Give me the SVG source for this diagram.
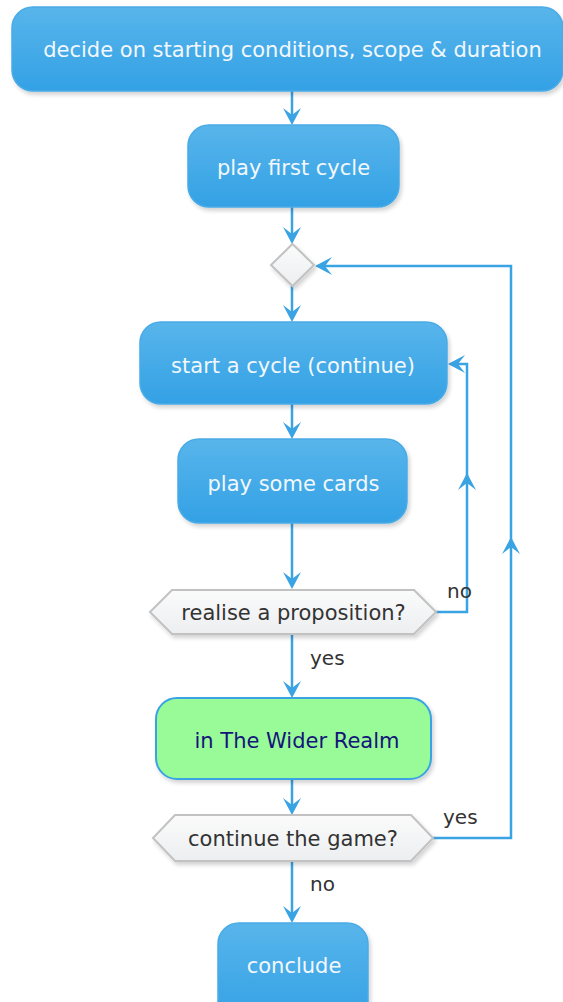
<svg xmlns="http://www.w3.org/2000/svg" width="563" height="1002" viewBox="0 0 563 1002">
<defs>
<linearGradient id="gBlue" x1="0" y1="0" x2="0" y2="1">
<stop offset="0" stop-color="#58b5eb"/>
<stop offset="1" stop-color="#33a1e5"/>
</linearGradient>
<linearGradient id="gHex" x1="0" y1="0" x2="0" y2="1">
<stop offset="0" stop-color="#fbfbfb"/>
<stop offset="1" stop-color="#eceef0"/>
</linearGradient>
<filter id="sh" x="-10%" y="-10%" width="130%" height="140%">
<feGaussianBlur in="SourceAlpha" stdDeviation="2"/>
<feOffset dx="2" dy="3"/>
<feComponentTransfer><feFuncA type="linear" slope="0.18"/></feComponentTransfer>
<feMerge><feMergeNode/><feMergeNode in="SourceGraphic"/></feMerge>
</filter>
</defs>
<style>
.act{fill:url(#gBlue);stroke:#4aabe6;stroke-width:1.5;filter:url(#sh)}
.green{fill:#98fb98;stroke:#3aa3e3;stroke-width:2;filter:url(#sh)}
.hex{fill:url(#gHex);stroke:#c2c2c2;stroke-width:2;filter:url(#sh)}
.wt{font-family:"DejaVu Sans",Verdana,sans-serif;font-size:21px;fill:#f2f8fd;text-anchor:middle}
.dt{font-family:"DejaVu Sans",Verdana,sans-serif;font-size:21px;fill:#333333;text-anchor:middle}
.gt{font-family:"DejaVu Sans",Verdana,sans-serif;font-size:21px;fill:#14147a;text-anchor:middle}
.lbl{font-family:"DejaVu Sans",Verdana,sans-serif;font-size:20px;fill:#333333}
.ln{fill:none;stroke:#3aa3e3;stroke-width:2.5}
.ahd{fill:#3aa3e3}
</style>
<g id="connectors">
<path class="ln" d="M292,91 V120"/>
<path class="ahd" d="M292,125 L283,108 L292,115 L301,108 Z"/>
<path class="ln" d="M292,207 V239"/>
<path class="ahd" d="M292,244 L283,227 L292,234 L301,227 Z"/>
<path class="ln" d="M292,286 V317"/>
<path class="ahd" d="M292,322 L283,305 L292,312 L301,305 Z"/>
<path class="ln" d="M292,404 V434"/>
<path class="ahd" d="M292,439 L283,422 L292,429 L301,422 Z"/>
<path class="ln" d="M292,523 V584"/>
<path class="ahd" d="M292,589 L283,572 L292,579 L301,572 Z"/>
<path class="ln" d="M292,634 V693"/>
<path class="ahd" d="M292,698 L283,681 L292,688 L301,681 Z"/>
<path class="ln" d="M292,779 V810"/>
<path class="ahd" d="M292,815 L283,798 L292,805 L301,798 Z"/>
<path class="ln" d="M292,862 V918"/>
<path class="ahd" d="M292,923 L283,906 L292,913 L301,906 Z"/>
<path class="ln" d="M436,612 H467 V364 H452"/>
<path class="ahd" d="M448,364 L465,355 L458,364 L465,373 Z"/>
<path class="ahd" d="M467,473 L458,490 L467,483 L476,490 Z"/>
<path class="ln" d="M433,838 H511 V266 H319"/>
<path class="ahd" d="M315,266 L332,257 L325,266 L332,275 Z"/>
<path class="ahd" d="M511,537 L502,554 L511,547 L520,554 Z"/>
<text class="lbl" x="447" y="598">no</text>
<text class="lbl" x="310" y="665">yes</text>
<text class="lbl" x="443" y="824">yes</text>
<text class="lbl" x="310" y="891">no</text>
</g>
<g id="n1">
<rect class="act" x="12" y="7" width="551" height="84" rx="21"/>
<text class="wt" x="292.5" y="57">decide on starting conditions, scope &amp; duration</text>
</g>
<g id="n2">
<rect class="act" x="188" y="125" width="211" height="82" rx="21"/>
<text class="wt" x="293.5" y="175">play first cycle</text>
</g>
<g id="merge">
<polygon class="hex" points="292.5,244 314,265 292.5,286 271,265"/>
</g>
<g id="n3">
<rect class="act" x="140" y="322" width="307" height="82" rx="21"/>
<text class="wt" x="293" y="373">start a cycle (continue)</text>
</g>
<g id="n4">
<rect class="act" x="178" y="439" width="229" height="84" rx="21"/>
<text class="wt" x="293.5" y="491">play some cards</text>
</g>
<g id="d1">
<polygon class="hex" points="150,612 172,590 414,590 436,612 414,634 172,634"/>
<text class="dt" x="293.5" y="620">realise a proposition?</text>
</g>
<g id="n5">
<rect class="green" x="156" y="698" width="275" height="81" rx="21"/>
<text class="gt" x="297" y="748">in The Wider Realm</text>
</g>
<g id="d2">
<polygon class="hex" points="153,838 175,815 411,815 433,838 411,861 175,861"/>
<text class="dt" x="293" y="846">continue the game?</text>
</g>
<g id="n6">
<rect class="act" x="218" y="923" width="150" height="100" rx="21"/>
<text class="wt" x="294" y="973">conclude</text>
</g>
</svg>
